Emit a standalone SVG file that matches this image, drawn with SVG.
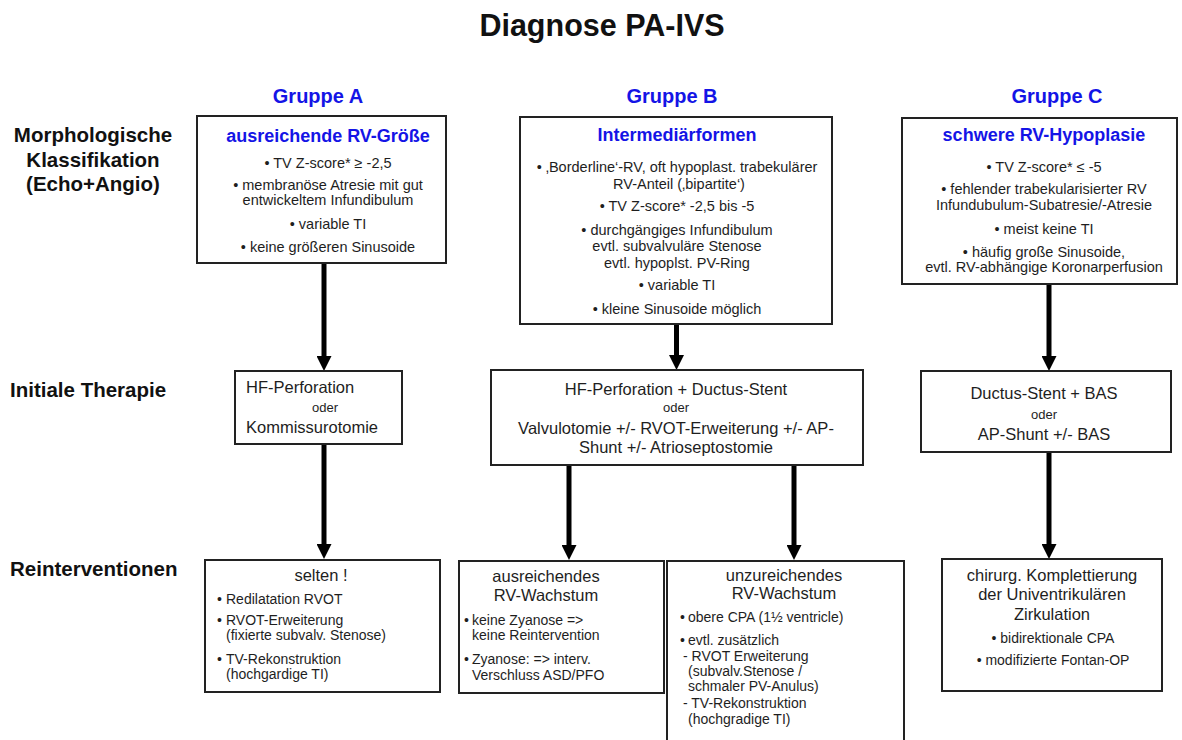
<svg xmlns="http://www.w3.org/2000/svg" width="1182" height="740" viewBox="0 0 1182 740">
<style>
  .bg { fill: #ffffff; }
  .box { fill: #ffffff; stroke: #222222; stroke-width: 2; }
  .title { font-family: "Liberation Sans", Arial, sans-serif; font-weight: bold; font-size: 30.5px; fill: #111111; text-anchor: middle; }
  .grp { font-family: "Liberation Sans", Arial, sans-serif; font-weight: bold; font-size: 20px; fill: #1414e6; text-anchor: middle; }
  .row { font-family: "Liberation Sans", Arial, sans-serif; font-weight: bold; font-size: 20.5px; fill: #111111; }
  .mid { text-anchor: middle; }
  .head { font-family: "Liberation Sans", Arial, sans-serif; font-weight: bold; font-size: 18px; fill: #1414e6; text-anchor: middle; }
  .body { font-family: "Liberation Sans", Arial, sans-serif; font-size: 14px; fill: #1e1e1e; }
  .mb { font-size: 14.5px; }
  .c { text-anchor: middle; }
  .ther { font-family: "Liberation Sans", Arial, sans-serif; font-size: 16.5px; fill: #1e1e1e; }
  .oder { font-family: "Liberation Sans", Arial, sans-serif; font-size: 13px; fill: #1e1e1e; text-anchor: middle; }
  .rh { font-family: "Liberation Sans", Arial, sans-serif; font-size: 16.5px; fill: #1e1e1e; text-anchor: middle; }
  .conn { stroke: #000000; stroke-width: 5; fill: none; marker-end: url(#arrow); }
</style>
<defs>
  <marker id="arrow" viewBox="0 0 15 15" refX="3" refY="7.5" markerWidth="15" markerHeight="15" markerUnits="userSpaceOnUse" orient="auto">
    <path d="M0,0 L15,7.5 L0,15 z" fill="#000000"/>
  </marker>
</defs>
<rect class="bg" x="0" y="0" width="1182" height="740"/>

<g id="title">
  <text class="title" x="602" y="36">Diagnose PA-IVS</text>
</g>

<g id="group-labels">
  <text class="grp" x="318" y="103">Gruppe A</text>
  <text class="grp" x="672" y="103">Gruppe B</text>
  <text class="grp" x="1057" y="103">Gruppe C</text>
</g>

<g id="row-labels">
  <text class="row mid" x="93" y="142">Morphologische</text>
  <text class="row mid" x="93" y="167">Klassifikation</text>
  <text class="row mid" x="93" y="191">(Echo+Angio)</text>
  <text class="row" x="10" y="397">Initiale Therapie</text>
  <text class="row" x="10" y="576">Reinterventionen</text>
</g>

<g id="connectors">
  <line class="conn" x1="324" y1="264" x2="324" y2="359"/>
  <line class="conn" x1="324" y1="445" x2="324" y2="547"/>
  <line class="conn" x1="676.5" y1="325" x2="676.5" y2="358"/>
  <line class="conn" x1="569" y1="466" x2="569" y2="548"/>
  <line class="conn" x1="794" y1="466" x2="794" y2="548"/>
  <line class="conn" x1="1049" y1="285" x2="1049" y2="359"/>
  <line class="conn" x1="1049" y1="453" x2="1049" y2="547"/>
</g>

<g id="node-a-morph">
  <rect class="box" x="197" y="116" width="249" height="147"/>
  <text class="head" x="328" y="142">ausreichende RV-Größe</text>
  <text class="body mb c" x="328" y="168">• TV Z-score* ≥ -2,5</text>
  <text class="body mb c" x="328" y="190">• membranöse Atresie mit gut</text>
  <text class="body mb c" x="328" y="205">entwickeltem Infundibulum</text>
  <text class="body mb c" x="328" y="229">• variable TI</text>
  <text class="body mb c" x="328" y="252">• keine größeren Sinusoide</text>
</g>

<g id="node-b-morph">
  <rect class="box" x="520" y="117" width="312" height="207"/>
  <text class="head" x="677" y="141">Intermediärformen</text>
  <text class="body mb c" x="677" y="172">• ‚Borderline‘-RV, oft hypoplast. trabekulärer</text>
  <text class="body mb c" x="679" y="189">RV-Anteil (‚bipartite‘)</text>
  <text class="body mb c" x="677" y="211">• TV Z-score* -2,5 bis -5</text>
  <text class="body mb c" x="677" y="235">• durchgängiges Infundibulum</text>
  <text class="body mb c" x="677" y="251">evtl. subvalvuläre Stenose</text>
  <text class="body mb c" x="677" y="268">evtl. hypoplst. PV-Ring</text>
  <text class="body mb c" x="677" y="290">• variable TI</text>
  <text class="body mb c" x="677" y="314">• kleine Sinusoide möglich</text>
</g>

<g id="node-c-morph">
  <rect class="box" x="902" y="118" width="275" height="166"/>
  <text class="head" x="1044" y="141">schwere RV-Hypoplasie</text>
  <text class="body mb c" x="1044" y="172">• TV Z-score* ≤ -5</text>
  <text class="body mb c" x="1044" y="194">• fehlender trabekularisierter RV</text>
  <text class="body mb c" x="1044" y="210">Infundubulum-Subatresie/-Atresie</text>
  <text class="body mb c" x="1044" y="234">• meist keine TI</text>
  <text class="body mb c" x="1044" y="257">• häufig große Sinusoide,</text>
  <text class="body mb c" x="1044" y="272">evtl. RV-abhängige Koronarperfusion</text>
</g>

<g id="node-a-therapy">
  <rect class="box" x="235" y="371" width="167" height="73"/>
  <text class="ther" x="246" y="393">HF-Perforation</text>
  <text class="oder" x="325" y="412">oder</text>
  <text class="ther" x="246" y="433">Kommissurotomie</text>
</g>

<g id="node-b-therapy">
  <rect class="box" x="491" y="370" width="372" height="95"/>
  <text class="ther c" x="676" y="395">HF-Perforation + Ductus-Stent</text>
  <text class="oder" x="676" y="412">oder</text>
  <text class="ther c" x="676" y="434">Valvulotomie +/- RVOT-Erweiterung +/- AP-</text>
  <text class="ther c" x="676" y="453">Shunt +/- Atrioseptostomie</text>
</g>

<g id="node-c-therapy">
  <rect class="box" x="921" y="371" width="250" height="81"/>
  <text class="ther c" x="1044" y="399">Ductus-Stent + BAS</text>
  <text class="oder" x="1044" y="419">oder</text>
  <text class="ther c" x="1044" y="440">AP-Shunt +/- BAS</text>
</g>

<g id="node-a-reint">
  <rect class="box" x="205" y="560" width="235" height="132"/>
  <text class="rh" x="321" y="581">selten !</text>
  <text class="body" x="217" y="604">•</text>
  <text class="body" x="226" y="604">Redilatation RVOT</text>
  <text class="body" x="217" y="625">•</text>
  <text class="body" x="226" y="625">RVOT-Erweiterung</text>
  <text class="body" x="226" y="640">(fixierte subvalv. Stenose)</text>
  <text class="body" x="217" y="664">•</text>
  <text class="body" x="226" y="664">TV-Rekonstruktion</text>
  <text class="body" x="226" y="679">(hochgardige TI)</text>
</g>

<g id="node-b-reint-ok">
  <rect class="box" x="459" y="561" width="205" height="132"/>
  <text class="rh" x="546" y="582">ausreichendes</text>
  <text class="rh" x="546" y="601">RV-Wachstum</text>
  <text class="body" x="464" y="625">•</text>
  <text class="body" x="472" y="625">keine Zyanose =&gt;</text>
  <text class="body" x="472" y="640">keine Reintervention</text>
  <text class="body" x="464" y="664">•</text>
  <text class="body" x="472" y="664">Zyanose: =&gt; interv.</text>
  <text class="body" x="472" y="680">Verschluss ASD/PFO</text>
</g>

<g id="node-b-reint-insuff">
  <rect class="box" x="667" y="561" width="237" height="190"/>
  <text class="rh" x="784" y="581">unzureichendes</text>
  <text class="rh" x="784" y="599">RV-Wachstum</text>
  <text class="body" x="680" y="622">•</text>
  <text class="body" x="688" y="622">obere CPA (1½ ventricle)</text>
  <text class="body" x="680" y="645">•</text>
  <text class="body" x="688" y="645">evtl. zusätzlich</text>
  <text class="body" x="683" y="661">- RVOT Erweiterung</text>
  <text class="body" x="688" y="676">(subvalv.Stenose /</text>
  <text class="body" x="688" y="691">schmaler PV-Anulus)</text>
  <text class="body" x="683" y="708">- TV-Rekonstruktion</text>
  <text class="body" x="688" y="724">(hochgradige TI)</text>
</g>

<g id="node-c-reint">
  <rect class="box" x="942" y="559" width="220" height="132"/>
  <text class="rh" x="1052" y="581">chirurg. Komplettierung</text>
  <text class="rh" x="1052" y="600">der Univentrikulären</text>
  <text class="rh" x="1052" y="620">Zirkulation</text>
  <text class="body c" x="1053" y="643">• bidirektionale CPA</text>
  <text class="body c" x="1053" y="665">• modifizierte Fontan-OP</text>
</g>
</svg>
